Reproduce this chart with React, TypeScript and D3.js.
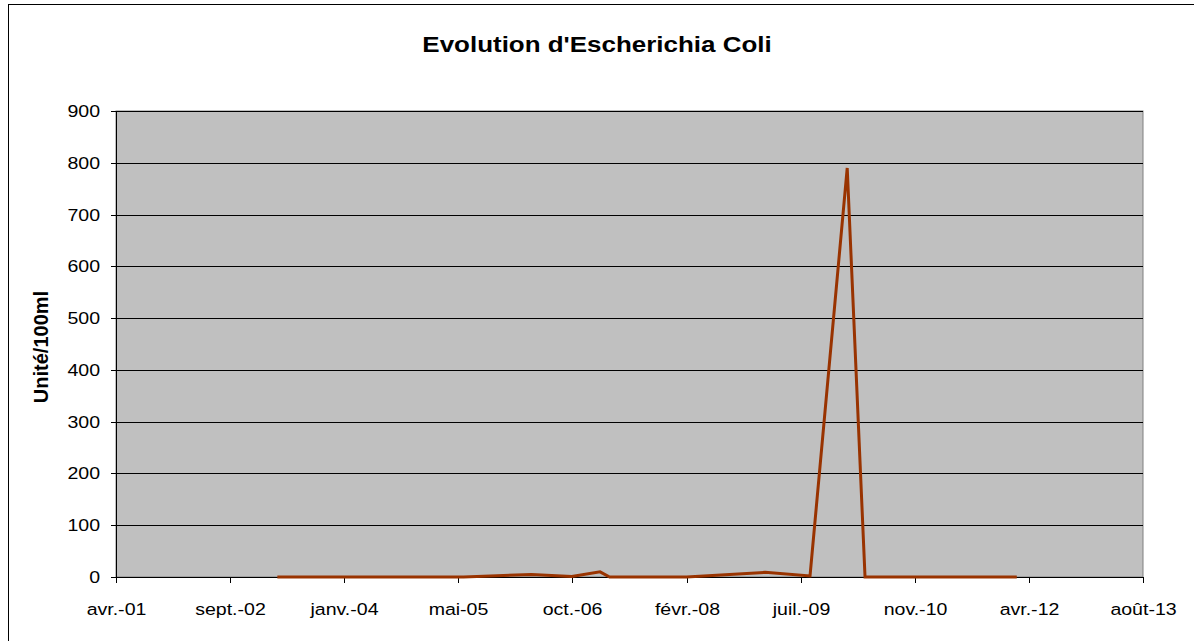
import React from "react";
import * as d3 from "d3";

// Excel date serials for axis ticks (major unit 500 days)
const tickSerials = [37000, 37500, 38000, 38500, 39000, 39500, 40000, 40500, 41000, 41500];
const tickLabels = ["avr.-01", "sept.-02", "janv.-04", "mai-05", "oct.-06", "févr.-08", "juil.-09", "nov.-10", "avr.-12", "août-13"];
const yTicks = [0, 100, 200, 300, 400, 500, 600, 700, 800, 900];

const sampleDates = [
  "2003-03-27", "2003-12-10", "2004-09-15", "2005-06-20", "2006-04-14", "2006-10-07",
  "2007-02-08", "2007-03-22", "2007-10-10", "2008-02-22", "2009-01-31", "2009-08-16",
  "2010-01-26", "2010-04-14", "2010-12-01", "2011-07-15", "2012-02-08",
];
const ecoliValues = [0, 0, 0, 0, 5, 1, 10, 0, 0, 0, 9, 2, 790, 0, 0, 0, 0];

const serialToDate = (s: number) => new Date(Date.UTC(1899, 11, 30) + s * 86400000);

export default function App() {
  const W = 1194, H = 641;
  const left = 116, right = 1143, top = 111, bottom = 577;
  const x = d3.scaleUtc().domain([serialToDate(tickSerials[0]), serialToDate(tickSerials[tickSerials.length - 1])]).range([left, right]);
  const y = d3.scaleLinear().domain([0, 900]).range([bottom, top]);
  const pts = sampleDates.map((d, i) => [x(new Date(d + "T00:00:00Z")), y(ecoliValues[i])] as [number, number]);
  const line = d3.line()(pts) || "";
  const font = "'Liberation Sans', Arial, sans-serif";
  const sx = 1.15;
  return (
    <svg width={W} height={H} style={{ position: "absolute", left: 0, top: 0 }} fontFamily={font}>
      <rect x={0} y={0} width={W} height={H} fill="#fff" />
      <rect x={8.5} y={4.5} width={1200} height={700} fill="#fff" stroke="#000" strokeWidth={1} />
      <text transform={`translate(597,52) scale(1.18,1)`} textAnchor="middle" fontWeight="bold" fontSize={22}>Evolution d'Escherichia Coli</text>
      <rect x={left} y={top} width={right - left} height={bottom - top} fill="#C0C0C0" stroke="#808080" strokeWidth={1} />
      {yTicks.slice(1).map((t) => (
        <line key={t} x1={left} x2={right} y1={Math.round(y(t)) + 0.5} y2={Math.round(y(t)) + 0.5} stroke="#000" strokeWidth={1} />
      ))}
      <line x1={left + 0.5} x2={left + 0.5} y1={top} y2={bottom} stroke="#000" />
      <line x1={left} x2={right + 1} y1={bottom + 0.5} y2={bottom + 0.5} stroke="#000" />
      {yTicks.map((t) => (
        <g key={t}>
          <line x1={left - 5} x2={left} y1={Math.round(y(t)) + 0.5} y2={Math.round(y(t)) + 0.5} stroke="#000" />
          <text transform={`translate(100,${y(t)}) scale(${sx},1)`} dy="0.35em" textAnchor="end" fontSize={17}>{t}</text>
        </g>
      ))}
      {tickSerials.map((s, i) => {
        const xx = Math.round(x(serialToDate(s))) + 0.5;
        return (
          <g key={s}>
            <line x1={xx} x2={xx} y1={bottom} y2={bottom + 6} stroke="#000" />
            <text transform={`translate(${xx},615) scale(${sx},1)`} textAnchor="middle" fontSize={17}>{tickLabels[i]}</text>
          </g>
        );
      })}
      <path d={line} fill="none" stroke="#993300" strokeWidth={3} strokeLinejoin="miter" />
      <text transform={`translate(48,347) rotate(-90)`} textAnchor="middle" fontWeight="bold" fontSize={20}>Unité/100ml</text>
    </svg>
  );
}
